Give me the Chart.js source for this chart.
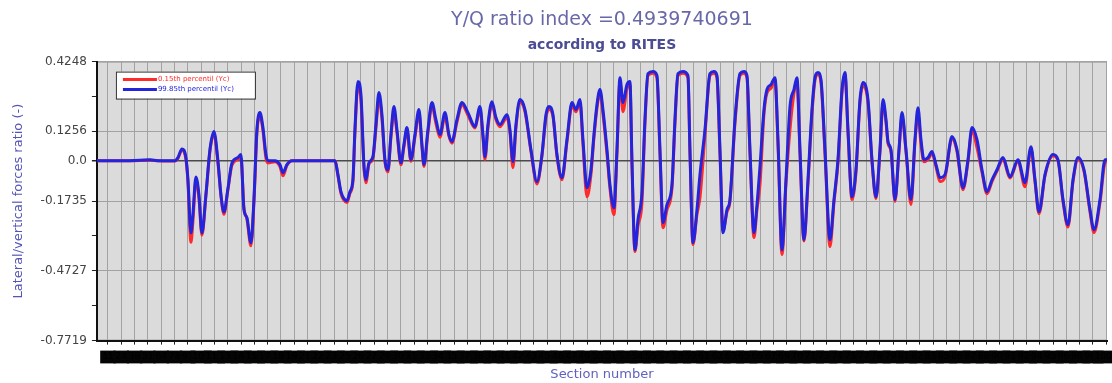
<!DOCTYPE html>
<html>
<head>
<meta charset="utf-8">
<title>Y/Q ratio index</title>
<script src="https://cdn.jsdelivr.net/npm/chart.js@4.4.1/dist/chart.umd.min.js"></script>
<style>
  html, body { margin: 0; padding: 0; background: #fff; }
  #wrap { width: 1112px; height: 383px; position: relative; }
</style>
</head>
<body>
<div id="wrap"><canvas id="yqChart"></canvas></div>
<script>
// Section numbers (x)
const sections = [
    0, 33, 53, 61, 78, 81, 85, 89, 91, 94,
    96, 99, 102, 105, 109, 113, 117, 121, 124, 127,
    131, 135, 141, 144, 147, 150, 154, 157, 160, 163,
    166, 169, 171, 178, 183, 186, 190, 195, 223, 238,
    241, 244, 247, 250, 253, 256, 258, 261, 264, 267,
    269, 272, 276, 279, 282, 285, 288, 291, 294, 297,
    300, 304, 307, 310, 314, 318, 322, 325, 327, 331,
    335, 339, 343, 348, 352, 355, 360, 365, 371, 378,
    383, 386, 388, 391, 395, 399, 403, 410, 413, 416,
    419, 423, 428, 434, 440, 445, 449, 452, 456, 460,
    465, 470, 475, 479, 483, 486, 490, 494, 497, 500,
    503, 506, 510, 513, 517, 520, 523, 526, 530, 533,
    535, 538, 541, 545, 548, 551, 556, 560, 563, 566,
    570, 575, 578, 581, 586, 591, 593, 596, 600, 603,
    608, 613, 617, 620, 623, 626, 630, 633, 638, 643,
    647, 650, 653, 657, 660, 663, 667, 670, 674, 678,
    681, 685, 689, 693, 697, 700, 703, 707, 711, 715,
    718, 721, 724, 728, 733, 737, 741, 745, 748, 751,
    755, 759, 763, 766, 771, 775, 779, 783, 786, 789,
    791, 794, 798, 802, 805, 809, 814, 818, 821, 824,
    827, 831, 835, 839, 843, 848, 855, 860, 866, 871,
    875, 880, 885, 890, 895, 900, 906, 913, 921, 928,
    934, 938, 942, 948, 956, 961, 966, 971, 976, 981,
    987, 993, 997, 1003, 1008, 1010
];

// upper percentile (blue)
const yq99 = [
    0, 0, 0.004, 0, 0, 0.013, 0.05, 0.013, -0.08, -0.31,
    -0.23, -0.07, -0.146, -0.31, -0.146, 0.047, 0.125, 0, -0.146, -0.22,
    -0.12, -0.01, 0.013, 0.026, -0.21, -0.245, -0.352, -0.167, 0.133, 0.206,
    0.142, 0.026, 0, 0, -0.017, -0.052, -0.017, 0, 0, 0,
    -0.06, -0.133, -0.163, -0.172, -0.133, -0.08, 0.133, 0.339, 0.283, -0.017,
    -0.082, -0.009, 0.017, 0.155, 0.292, 0.197, 0.004, -0.039, 0.112, 0.232,
    0.133, -0.009, 0.069, 0.142, 0.004, 0.112, 0.219, 0.069, -0.017, 0.133,
    0.249, 0.176, 0.112, 0.206, 0.112, 0.082, 0.176, 0.249, 0.206, 0.146,
    0.232, 0.112, 0.017, 0.155, 0.253, 0.185, 0.155, 0.197, 0.133, -0.004,
    0.155, 0.262, 0.219, 0.047, -0.09, 0.026, 0.197, 0.232, 0.197, 0.026,
    -0.073, 0.09, 0.249, 0.219, 0.262, 0.09, -0.116, -0.039, 0.112, 0.24,
    0.305, 0.219, 0.047, -0.103, -0.202, 0.047, 0.356, 0.249, 0.326, 0.339,
    0, -0.382, -0.253, -0.137, 0.176, 0.373, 0.382, 0.365, 0.047, -0.266,
    -0.189, -0.103, 0.176, 0.373, 0.382, 0.365, 0.047, -0.352, -0.21, -0.06,
    0.133, 0.373, 0.382, 0.365, 0.047, -0.309, -0.21, -0.167, 0.176, 0.373,
    0.382, 0.365, 0.047, -0.309, -0.189, -0.026, 0.219, 0.305, 0.326, 0.356,
    0.09, -0.382, -0.082, 0.232, 0.305, 0.356, 0.047, -0.339, -0.082, 0.219,
    0.356, 0.378, 0.348, 0.047, -0.339, -0.167, 0.004, 0.305, 0.378, 0.133,
    -0.155, -0.039, 0.262, 0.335, 0.262, 0.004, -0.155, 0.047, 0.262, 0.176,
    0.082, 0.047, -0.167, 0.047, 0.206, 0.047, -0.167, 0.09, 0.227, 0.09,
    0.004, 0.013, 0.039, -0.017, -0.073, -0.06, 0.103, 0.047, -0.116, 0.004,
    0.142, 0.09, -0.039, -0.133, -0.082, -0.039, 0.013, -0.069, 0.004, -0.094,
    0.06, -0.082, -0.219, -0.06, 0.026, 0.004, -0.167, -0.275, -0.082, 0.013,
    -0.039, -0.21, -0.296, -0.167, 0.004, 0.004
];

// lower percentile (red)
const yq01 = [
    0, 0, 0.002, 0, -0.002, 0.01, 0.045, 0.005, -0.09, -0.35,
    -0.26, -0.085, -0.16, -0.32, -0.15, 0.04, 0.115, -0.01, -0.15, -0.23,
    -0.125, -0.02, 0.005, 0.01, -0.2, -0.25, -0.365, -0.18, 0.12, 0.19,
    0.13, 0.01, -0.01, -0.005, -0.025, -0.065, -0.02, 0, 0, 0,
    -0.065, -0.14, -0.17, -0.18, -0.14, -0.09, 0.12, 0.32, 0.26, -0.03,
    -0.095, -0.015, 0.01, 0.14, 0.27, 0.18, -0.005, -0.048, 0.1, 0.21,
    0.12, -0.018, 0.06, 0.13, -0.003, 0.1, 0.2, 0.06, -0.025, 0.12,
    0.235, 0.16, 0.1, 0.19, 0.105, 0.075, 0.165, 0.24, 0.195, 0.14,
    0.22, 0.1, 0.005, 0.14, 0.24, 0.175, 0.145, 0.185, 0.12, -0.03,
    0.14, 0.25, 0.21, 0.04, -0.1, 0.02, 0.185, 0.22, 0.19, 0.02,
    -0.082, 0.08, 0.235, 0.21, 0.25, 0.07, -0.155, -0.06, 0.1, 0.225,
    0.29, 0.2, 0.03, -0.12, -0.232, 0.03, 0.34, 0.21, 0.31, 0.325,
    -0.02, -0.39, -0.28, -0.18, 0.16, 0.365, 0.375, 0.355, 0.03, -0.288,
    -0.21, -0.12, 0.16, 0.365, 0.375, 0.355, 0.03, -0.36, -0.23, -0.159,
    0.11, 0.365, 0.375, 0.355, 0.03, -0.3, -0.22, -0.175, 0.16, 0.365,
    0.375, 0.355, 0.03, -0.33, -0.21, -0.103, 0.2, 0.29, 0.31, 0.345,
    0.07, -0.403, -0.1, 0.133, 0.29, 0.34, 0.03, -0.345, -0.1, 0.2,
    0.345, 0.37, 0.335, 0.03, -0.369, -0.18, -0.01, 0.29, 0.37, 0.12,
    -0.167, -0.05, 0.25, 0.32, 0.25, -0.005, -0.163, 0.04, 0.245, 0.165,
    0.075, 0.04, -0.175, 0.04, 0.19, 0.04, -0.189, 0.08, 0.2, 0.07,
    -0.005, 0.005, 0.03, -0.025, -0.09, -0.07, 0.095, 0.04, -0.125, -0.005,
    0.13, 0.056, -0.05, -0.142, -0.09, -0.045, 0.005, -0.075, -0.003, -0.112,
    0.05, -0.09, -0.228, -0.065, 0.02, 0, -0.175, -0.285, -0.09, 0.005,
    -0.045, -0.22, -0.309, -0.18, -0.01, -0.005
];

// y axis tick values and their printed labels ('' = minor tick)
const yTickValues = [-0.7719, -0.6223, -0.4727, -0.3231, -0.1735, 0.0, 0.1256, 0.2752, 0.4248];
const yTickLabels = ['-0.7719', '', '-0.4727', '', '-0.1735', '0.0', '0.1256', '', '0.4248'];

const seriesLabels = ['0.15th percentil (Yc)', '99.85th percentil (Yc)'];

Chart.defaults.font.family = "'DejaVu Sans', sans-serif";

// gray plot background with thin frame
const plotBackground = {
    id: 'plotBackground',
    beforeDraw(chart) {
        const { ctx, chartArea: a } = chart;
        ctx.save();
        ctx.fillStyle = '#dbdbdb';
        ctx.fillRect(a.left, a.top, a.right - a.left, a.bottom - a.top);
        ctx.strokeStyle = '#9a9a9a';
        ctx.lineWidth = 1;
        ctx.strokeRect(a.left + 0.5, a.top + 0.5, a.right - a.left - 1, a.bottom - a.top - 1);
        ctx.restore();
    }
};

// small boxed legend inside the plot, top-left
const boxLegend = {
    id: 'boxLegend',
    afterDraw(chart) {
        const { ctx, chartArea: a } = chart;
        const x = a.left + 19, y = a.top + 10, w = 139, h = 27;
        ctx.save();
        ctx.fillStyle = '#ffffff';
        ctx.fillRect(x, y, w, h);
        ctx.strokeStyle = '#333';
        ctx.lineWidth = 1;
        ctx.strokeRect(x + 0.5, y + 0.5, w, h);
        ctx.font = "7px 'DejaVu Sans', sans-serif";
        ctx.textBaseline = 'middle';
        chart.data.datasets.forEach((ds, i) => {
            const ly = y + 8 + i * 10;
            ctx.strokeStyle = ds.borderColor;
            ctx.lineWidth = 3;
            ctx.beginPath();
            ctx.moveTo(x + 7, ly);
            ctx.lineTo(x + 41, ly);
            ctx.stroke();
            ctx.fillStyle = ds.borderColor;
            ctx.fillText(ds.label, x + 42, ly);
        });
        ctx.restore();
    }
};

const ctxYQ = document.getElementById('yqChart').getContext('2d');
const yqChart = new Chart(ctxYQ, {
    type: 'line',
    data: {
        datasets: [{
            label: seriesLabels[0],
            data: sections.map((s, i) => ({ x: s, y: yq01[i] })),
            borderColor: '#ff2a2a',
            borderWidth: 3,
            pointRadius: 0,
            cubicInterpolationMode: 'monotone',
            order: 2
        }, {
            label: seriesLabels[1],
            data: sections.map((s, i) => ({ x: s, y: yq99[i] })),
            borderColor: '#2424dc',
            borderWidth: 3,
            pointRadius: 0,
            cubicInterpolationMode: 'monotone',
            order: 1
        }]
    },
    options: {
        responsive: true,
        maintainAspectRatio: false,
        animation: false,
        devicePixelRatio: 1,
        layout: { padding: { left: 0, right: 5, top: 0, bottom: 0 } },
        plugins: {
            legend: { display: false },
            tooltip: { enabled: false },
            title: {
                display: true,
                text: 'Y/Q ratio index =0.4939740691',
                color: '#6868a8',
                fullSize: false,
                font: { size: 19, weight: 'normal' },
                padding: { top: 9, bottom: 0 }
            },
            subtitle: {
                display: true,
                text: 'according to RITES',
                color: '#4c4c94',
                fullSize: false,
                font: { size: 14, weight: 'bold' },
                padding: { top: 5, bottom: 8 }
            }
        },
        scales: {
            x: {
                type: 'linear',
                min: 0,
                max: 1010,
                afterBuildTicks: (scale) => {
                    const t = [];
                    for (let v = 11; v <= 1010; v += 13.31) t.push({ value: v });
                    scale.ticks = t;
                },
                afterFit: (scale) => {
                    scale.paddingLeft = 0;
                    scale.paddingRight = 0;
                },
                border: { color: '#111', width: 2 },
                grid: { color: '#a2a2a2', lineWidth: 1, tickLength: 4, tickColor: '#222' },
                ticks: {
                    autoSkip: false,
                    maxRotation: 0,
                    minRotation: 0,
                    padding: 7,
                    color: '#000',
                    font: { size: 9 },
                    showLabelBackdrop: true,
                    backdropColor: '#050505',
                    backdropPadding: { x: 2, y: 1 },
                    callback: (v) => String(Math.round(v))
                },
                title: {
                    display: true,
                    text: 'Section number',
                    color: '#6060c0',
                    font: { size: 13 },
                    padding: { top: -3, bottom: 1 }
                }
            },
            y: {
                min: -0.7719,
                max: 0.4248,
                afterBuildTicks: (scale) => {
                    scale.ticks = yTickValues.map(v => ({ value: v }));
                },
                border: { color: '#111', width: 2 },
                grid: {
                    color: (c) => {
                        const i = yTickValues.indexOf(c.tick ? c.tick.value : NaN);
                        if (i < 0 || yTickLabels[i] === '') return 'rgba(0,0,0,0)';
                        return yTickValues[i] === 0 ? '#4a4a4a' : '#a2a2a2';
                    },
                    lineWidth: (c) => (c.tick && c.tick.value === 0 ? 1.5 : 1),
                    tickLength: 5,
                    tickColor: '#222'
                },
                ticks: {
                    padding: 5,
                    color: '#444',
                    font: { size: 12 },
                    callback: (v) => {
                        const i = yTickValues.indexOf(v);
                        return i < 0 ? '' : yTickLabels[i];
                    }
                },
                title: {
                    display: true,
                    text: 'Lateral/vertical forces ratio (-)',
                    color: '#5454b8',
                    font: { size: 13 },
                    padding: { top: 11, bottom: 9 }
                }
            }
        }
    },
    plugins: [plotBackground, boxLegend]
});
</script>
</body>
</html>
